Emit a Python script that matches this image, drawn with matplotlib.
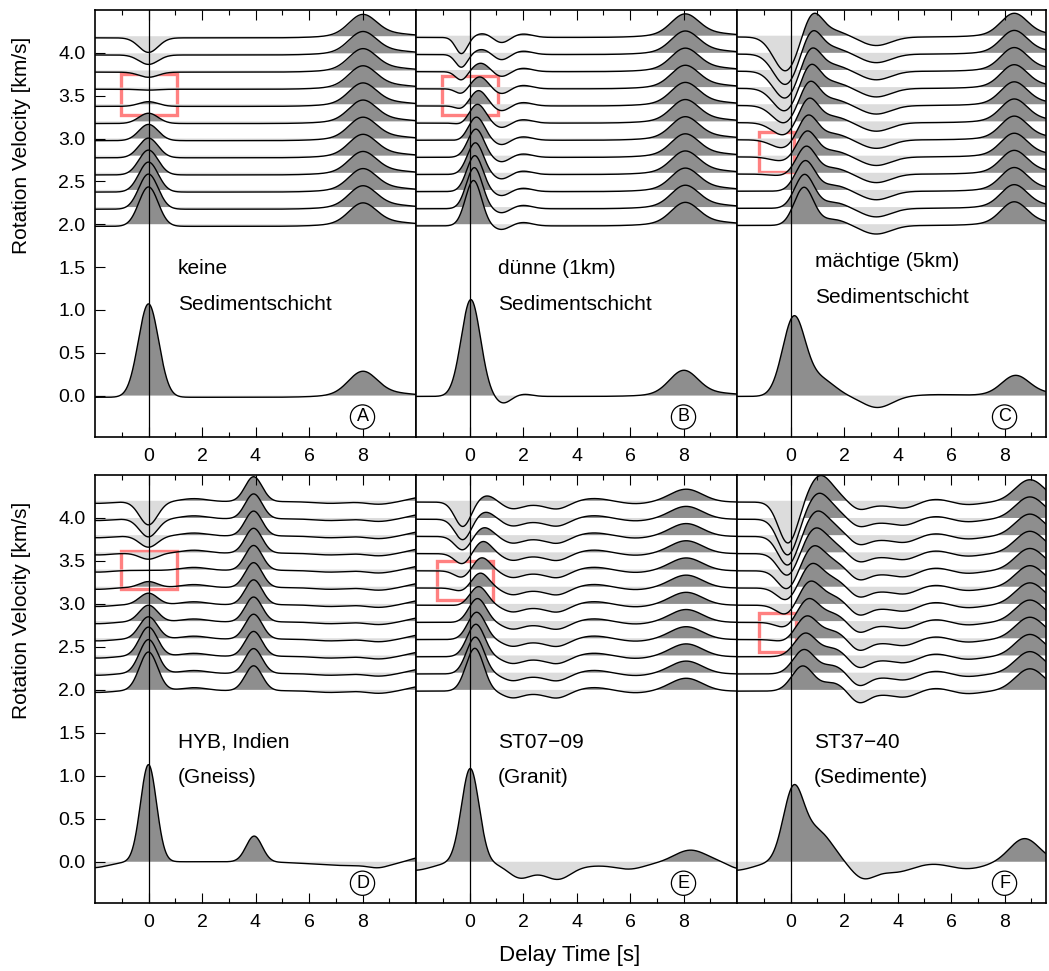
import numpy as np
import matplotlib.pyplot as plt
from matplotlib.patches import Rectangle

plt.rcParams['font.family'] = ['Liberation Sans', 'DejaVu Sans']

DARK = '#8e8e8e'
LIGHT = '#dcdcdc'
BOX = '#ff8080'

# trace offsets [km/s], bottom to top
velocities = [2.0, 2.2, 2.4, 2.6, 2.8, 3.0, 3.2, 3.4, 3.6, 3.8, 4.0, 4.2]

# Each stacked panel: pulse centres [s], widths [s], amplitudes per trace
# (amplitudes in plot units, one value per velocity)

# ---- A: keine Sedimentschicht
A_offset = -0.025
A_direct = [0.46, 0.41, 0.35, 0.29, 0.23, 0.19, 0.12, 0.055, -0.01, -0.06, -0.11, -0.17]
A_late = [0.22, 0.22, 0.22, 0.22, 0.22, 0.22, 0.22, 0.22, 0.22, 0.22, 0.22, 0.22]
A_tail = [0.06, 0.06, 0.06, 0.06, 0.06, 0.06, 0.06, 0.06, 0.06, 0.06, 0.06, 0.06]
A_bottom_t = [0.0, 8.0, 8.6]
A_bottom_w = [0.38, 0.52, 1.3]
A_bottom_a = [1.09, 0.25, 0.06]
A_bottom_offset = -0.02

# ---- B: duenne (1km) Sedimentschicht
B_offset = -0.02
B_dip = [0, 0, 0, 0, 0, -0.01, -0.02, -0.04, -0.06, -0.10, -0.15, -0.19]
B_main_t = [0.15, 0.18, 0.2, 0.22, 0.24, 0.26, 0.3, 0.34, 0.38, 0.42, 0.46, 0.5]
B_main = [0.53, 0.48, 0.42, 0.37, 0.33, 0.27, 0.22, 0.18, 0.14, 0.10, 0.06, 0.045]
B_trough = [-0.045, -0.05, -0.05, -0.055, -0.055, -0.055, -0.055, -0.06, -0.06, -0.06, -0.065, -0.065]
B_bump = [0.04, 0.04, 0.04, 0.04, 0.04, 0.04, 0.04, 0.04, 0.04, 0.04, 0.04, 0.04]
B_late = [0.22, 0.22, 0.22, 0.22, 0.22, 0.22, 0.22, 0.22, 0.22, 0.22, 0.22, 0.22]
B_tail = [0.06, 0.06, 0.06, 0.06, 0.06, 0.06, 0.06, 0.06, 0.06, 0.06, 0.06, 0.06]
B_bottom_t = [0.05, 1.25, 2.05, 8.0, 8.6]
B_bottom_w = [0.36, 0.28, 0.3, 0.52, 1.3]
B_bottom_a = [1.13, -0.08, 0.025, 0.26, 0.05]
B_bottom_offset = -0.01

# ---- C: maechtige (5km) Sedimentschicht
C_offset = -0.015
C_dip_t = [-0.3, -0.3, -0.3, -0.3, -0.28, -0.26, -0.24, -0.22, -0.2, -0.19, -0.18, -0.18]
C_dip = [0, 0, 0, -0.02, -0.05, -0.10, -0.15, -0.21, -0.27, -0.32, -0.36, -0.40]
C_main_t = [0.5, 0.52, 0.55, 0.58, 0.61, 0.64, 0.67, 0.7, 0.73, 0.76, 0.79, 0.82]
C_main = [0.44, 0.39, 0.35, 0.32, 0.30, 0.29, 0.29, 0.29, 0.29, 0.28, 0.28, 0.28]
C_shoulder = [0.07, 0.07, 0.07, 0.07, 0.07, 0.07, 0.07, 0.07, 0.07, 0.07, 0.07, 0.07]
C_trough = [-0.1, -0.1, -0.1, -0.1, -0.1, -0.1, -0.1, -0.1, -0.1, -0.1, -0.1, -0.1]
C_late = [0.23, 0.23, 0.23, 0.23, 0.23, 0.23, 0.23, 0.23, 0.23, 0.23, 0.23, 0.23]
C_tail = [0.05, 0.05, 0.05, 0.05, 0.05, 0.05, 0.05, 0.05, 0.05, 0.05, 0.05, 0.05]
C_bottom_t = [0.12, 1.1, 3.25, 5.5, 8.4, 8.9]
C_bottom_w = [0.42, 0.55, 0.55, 0.9, 0.5, 1.2]
C_bottom_a = [0.9, 0.2, -0.13, 0.02, 0.2, 0.05]
C_bottom_offset = -0.01

# ---- D: HYB, Indien (Gneiss)
D_offset = -0.01
D_direct = [0.45, 0.395, 0.34, 0.26, 0.195, 0.135, 0.07, 0.0, -0.07, -0.13, -0.21, -0.27]
D_early = [-0.02, -0.02, -0.02, -0.02, -0.02, -0.02, -0.02, -0.02, -0.02, -0.02, -0.02, -0.02]
D_bump = [0.035, 0.035, 0.035, 0.035, 0.035, 0.035, 0.035, 0.035, 0.035, 0.035, 0.035, 0.035]
D_p4 = [0.29, 0.29, 0.29, 0.29, 0.29, 0.29, 0.29, 0.29, 0.29, 0.29, 0.29, 0.29]
D_neg7 = [-0.02, -0.02, -0.02, -0.02, -0.02, -0.02, -0.02, -0.02, -0.02, -0.02, -0.02, -0.02]
D_neg9 = [-0.03, -0.03, -0.03, -0.03, -0.03, -0.03, -0.03, -0.03, -0.03, -0.03, -0.03, -0.03]
D_end = [0.05, 0.05, 0.05, 0.05, 0.05, 0.05, 0.05, 0.05, 0.05, 0.05, 0.05, 0.05]
D_bottom_t = [-2.1, 0.0, 3.95, 7.6, 8.6, 10.2]
D_bottom_w = [0.6, 0.3, 0.3, 1.4, 0.35, 0.45]
D_bottom_a = [-0.07, 1.13, 0.3, -0.045, -0.035, 0.06]
D_bottom_offset = 0.0

# ---- E: ST07-09 (Granit)
E_offset = -0.015
E_dip = [0, 0, 0, 0, -0.005, -0.01, -0.045, -0.085, -0.125, -0.16, -0.24, -0.285]
E_main_t = [0.2, 0.22, 0.24, 0.27, 0.3, 0.34, 0.4, 0.45, 0.5, 0.55, 0.6, 0.65]
E_main = [0.50, 0.43, 0.38, 0.32, 0.28, 0.22, 0.18, 0.16, 0.15, 0.11, 0.09, 0.08]
E_trough1 = [-0.06, -0.06, -0.06, -0.06, -0.06, -0.06, -0.06, -0.06, -0.06, -0.06, -0.06, -0.06]
E_broad = [-0.03, -0.03, -0.03, -0.03, -0.03, -0.03, -0.03, -0.03, -0.03, -0.03, -0.03, -0.03]
E_trough2 = [-0.06, -0.06, -0.06, -0.06, -0.06, -0.06, -0.06, -0.06, -0.06, -0.06, -0.06, -0.06]
E_bump = [0.045, 0.045, 0.045, 0.045, 0.045, 0.045, 0.045, 0.045, 0.045, 0.045, 0.045, 0.045]
E_neg6 = [-0.02, -0.02, -0.02, -0.02, -0.02, -0.02, -0.02, -0.02, -0.02, -0.02, -0.02, -0.02]
E_late = [0.15, 0.15, 0.15, 0.15, 0.15, 0.15, 0.15, 0.15, 0.15, 0.15, 0.15, 0.15]
E_bottom_t = [-2.1, 0.03, 1.85, 2.6, 3.35, 5.2, 6.0, 8.25, 10.1]
E_bottom_w = [0.7, 0.33, 0.4, 1.0, 0.45, 1.5, 0.5, 0.6, 0.4]
E_bottom_a = [-0.1, 1.09, -0.11, -0.1, -0.11, -0.04, -0.05, 0.14, -0.08]
E_bottom_offset = 0.0

# ---- F: ST37-40 (Sedimente)
F_offset = -0.015
F_dip_t = [-0.2, -0.2, -0.2, -0.18, -0.17, -0.15, -0.14, -0.12, -0.11, -0.1, -0.1, -0.09]
F_dip = [0, 0, 0, -0.03, -0.07, -0.12, -0.15, -0.22, -0.26, -0.34, -0.42, -0.48]
F_main_t = [0.45, 0.5, 0.55, 0.6, 0.66, 0.72, 0.78, 0.84, 0.9, 0.95, 1.0, 1.05]
F_main = [0.29, 0.28, 0.27, 0.27, 0.27, 0.27, 0.27, 0.27, 0.27, 0.26, 0.26, 0.26]
F_shoulder = [0.1, 0.1, 0.1, 0.1, 0.1, 0.1, 0.1, 0.1, 0.1, 0.1, 0.1, 0.1]
F_trough = [-0.12, -0.12, -0.11, -0.11, -0.1, -0.1, -0.09, -0.09, -0.08, -0.08, -0.07, -0.07]
F_broad = [-0.04, -0.04, -0.04, -0.04, -0.04, -0.04, -0.04, -0.04, -0.04, -0.04, -0.04, -0.04]
F_trough4 = [-0.04, -0.04, -0.04, -0.04, -0.04, -0.04, -0.04, -0.04, -0.04, -0.04, -0.04, -0.04]
F_bump = [0.04, 0.04, 0.04, 0.04, 0.04, 0.04, 0.04, 0.04, 0.04, 0.04, 0.04, 0.04]
F_neg7 = [-0.03, -0.03, -0.03, -0.03, -0.03, -0.03, -0.03, -0.03, -0.03, -0.03, -0.03, -0.03]
F_late = [0.26, 0.26, 0.26, 0.26, 0.26, 0.26, 0.26, 0.26, 0.26, 0.26, 0.26, 0.26]
F_bottom_t = [-2.1, 0.1, 1.0, 2.7, 3.9, 6.6, 8.75]
F_bottom_w = [0.7, 0.38, 0.55, 0.45, 0.7, 0.7, 0.55]
F_bottom_a = [-0.1, 0.8, 0.35, -0.17, -0.12, -0.08, 0.27]
F_bottom_offset = 0.0

labels = [
    ("keine", "Sedimentschicht"),
    ("dünne (1km)", "Sedimentschicht"),
    ("mächtige (5km)", "Sedimentschicht"),
    ("HYB, Indien", "(Gneiss)"),
    ("ST07−09", "(Granit)"),
    ("ST37−40", "(Sedimente)"),
]
letters = ["A", "B", "C", "D", "E", "F"]

# red boxes: (t0, t1, v0, v1)
boxes = [
    (-1.01, 1.05, 3.28, 3.75),
    (-1.01, 1.08, 3.27, 3.73),
    (-1.18, 0.12, 2.61, 3.08),
    (-1.01, 1.05, 3.17, 3.62),
    (-1.20, 0.87, 3.04, 3.495),
    (-1.19, 0.19, 2.44, 2.89),
]

panels = [
    (A_offset, [(0.0, 0.36, A_direct), (8.0, 0.5, A_late), (8.6, 1.3, A_tail)],
     A_bottom_t, A_bottom_w, A_bottom_a, A_bottom_offset),
    (B_offset, [(-0.3, 0.22, B_dip), (B_main_t, 0.3, B_main), (1.2, 0.28, B_trough),
                (2.0, 0.35, B_bump), (8.05, 0.5, B_late), (8.6, 1.3, B_tail)],
     B_bottom_t, B_bottom_w, B_bottom_a, B_bottom_offset),
    (C_offset, [(C_dip_t, 0.45, C_dip), (C_main_t, 0.36, C_main), (1.6, 0.5, C_shoulder),
                (3.2, 0.55, C_trough), (8.35, 0.48, C_late), (8.8, 1.2, C_tail)],
     C_bottom_t, C_bottom_w, C_bottom_a, C_bottom_offset),
    (D_offset, [(-1.9, 0.5, D_early), (0.0, 0.34, D_direct), (1.7, 0.5, D_bump),
                (3.93, 0.32, D_p4), (6.8, 0.6, D_neg7), (8.6, 0.45, D_neg9), (10.2, 0.45, D_end)],
     D_bottom_t, D_bottom_w, D_bottom_a, D_bottom_offset),
    (E_offset, [(-0.25, 0.3, E_dip), (E_main_t, 0.33, E_main), (1.6, 0.35, E_trough1),
                (2.6, 1.0, E_broad), (3.3, 0.4, E_trough2), (4.6, 0.6, E_bump),
                (6.2, 0.5, E_neg6), (8.1, 0.6, E_late)],
     E_bottom_t, E_bottom_w, E_bottom_a, E_bottom_offset),
    (F_offset, [(F_dip_t, 0.36, F_dip), (F_main_t, 0.4, F_main), (1.6, 0.45, F_shoulder),
                (2.55, 0.35, F_trough), (3.6, 1.0, F_broad), (4.3, 0.4, F_trough4),
                (5.4, 0.5, F_bump), (6.6, 0.5, F_neg7), (8.95, 0.55, F_late)],
     F_bottom_t, F_bottom_w, F_bottom_a, F_bottom_offset),
]

# text positions (time, upper line, lower line)
label_pos = [(1.1, 1.48, 1.06), (1.07, 1.48, 1.06), (0.93, 1.56, 1.14),
             (1.1, 1.39, 0.98), (1.05, 1.39, 0.98), (0.87, 1.39, 0.98)]


def gauss(t, t0, w, a):
    return a * np.exp(-0.5 * ((t - t0) / w) ** 2)


def wiggle(ax, t, base, y):
    ax.fill_between(t, base, base + y, where=y >= 0, interpolate=True,
                    color=DARK, lw=0, zorder=1)
    ax.fill_between(t, base, base + y, where=y <= 0, interpolate=True,
                    color=LIGHT, lw=0, zorder=1)
    ax.plot(t, base + y, color='black', lw=1.0, zorder=3)


W, H = 1049, 971
cols = [(95, 416, 10.0), (416, 737, 10.0), (737, 1046, 9.55)]
rows = [(10, 436.7), (475, 903)]

fig = plt.figure(figsize=(W / 100, H / 100), dpi=100)

for i, (off, pulses, bt, bw, ba, boff) in enumerate(panels):
    r, c = divmod(i, 3)
    x0, x1, xmax = cols[c]
    y0, y1 = rows[r]
    ax = fig.add_axes([x0 / W, 1 - y1 / H, (x1 - x0) / W, (y1 - y0) / H])
    t = np.linspace(-2.0, xmax, 1400)

    # stacked traces, drawn from the top down
    for k in range(len(velocities) - 1, -1, -1):
        y = np.full_like(t, off)
        for t0, w, amps in pulses:
            tk = t0[k] if np.ndim(t0) else t0
            y += gauss(t, tk, w, amps[k])
        wiggle(ax, t, velocities[k], y)

    # single trace at zero
    y = np.full_like(t, boff)
    for t0, w, a in zip(bt, bw, ba):
        y += gauss(t, t0, w, a)
    wiggle(ax, t, 0.0, y)

    ax.axvline(0, color='black', lw=0.9, zorder=2.5)

    bx0, bx1, by0, by1 = boxes[i]
    ax.add_patch(Rectangle((bx0, by0), bx1 - bx0, by1 - by0, fill=False,
                           ec=BOX, lw=2.4, zorder=0.8))

    l1, l2 = labels[i]
    tx, ya, yb = label_pos[i]
    ax.text(tx, ya, l1, fontsize=15, ha='left', va='center', zorder=5)
    ax.text(tx, yb, l2, fontsize=15, ha='left', va='center', zorder=5)

    ax.text(8, -0.25, letters[i], fontsize=13, ha='center', va='center', zorder=5,
            bbox=dict(boxstyle='circle,pad=0.2', fc='white', ec='black', lw=0.9))

    ax.set_xlim(-2.0, xmax)
    ax.set_ylim(-0.48, 4.5)
    ax.set_xticks([0, 2, 4, 6, 8])
    ax.set_xticks([-1, 1, 3, 5, 7, 9], minor=True)
    ax.tick_params(axis='x', which='both', direction='in', top=True, bottom=True,
                   labelsize=14, pad=8)
    ax.tick_params(axis='x', which='major', length=7.5, width=0.8)
    ax.tick_params(axis='x', which='minor', length=3.6, width=0.8)
    if c == 0:
        ax.set_yticks([0.0, 0.5, 1.0, 1.5, 2.0, 2.5, 3.0, 3.5, 4.0])
        ax.set_yticklabels(['0.0', '0.5', '1.0', '1.5', '2.0', '2.5', '3.0', '3.5', '4.0'])
        ax.tick_params(axis='y', direction='in', length=7.5, width=0.8,
                       labelsize=14, pad=7)
    else:
        ax.set_yticks([])
    for s in ax.spines.values():
        s.set_linewidth(1.2)

fig.text(22 / W, 1 - 145 / H, 'Rotation Velocity [km/s]', rotation=90,
         ha='center', va='center', fontsize=15)
fig.text(22 / W, 1 - 610 / H, 'Rotation Velocity [km/s]', rotation=90,
         ha='center', va='center', fontsize=15)
fig.text(570 / W, 1 - 955 / H, 'Delay Time [s]', ha='center', va='center', fontsize=16)

fig.savefig('out.png', dpi=100)
